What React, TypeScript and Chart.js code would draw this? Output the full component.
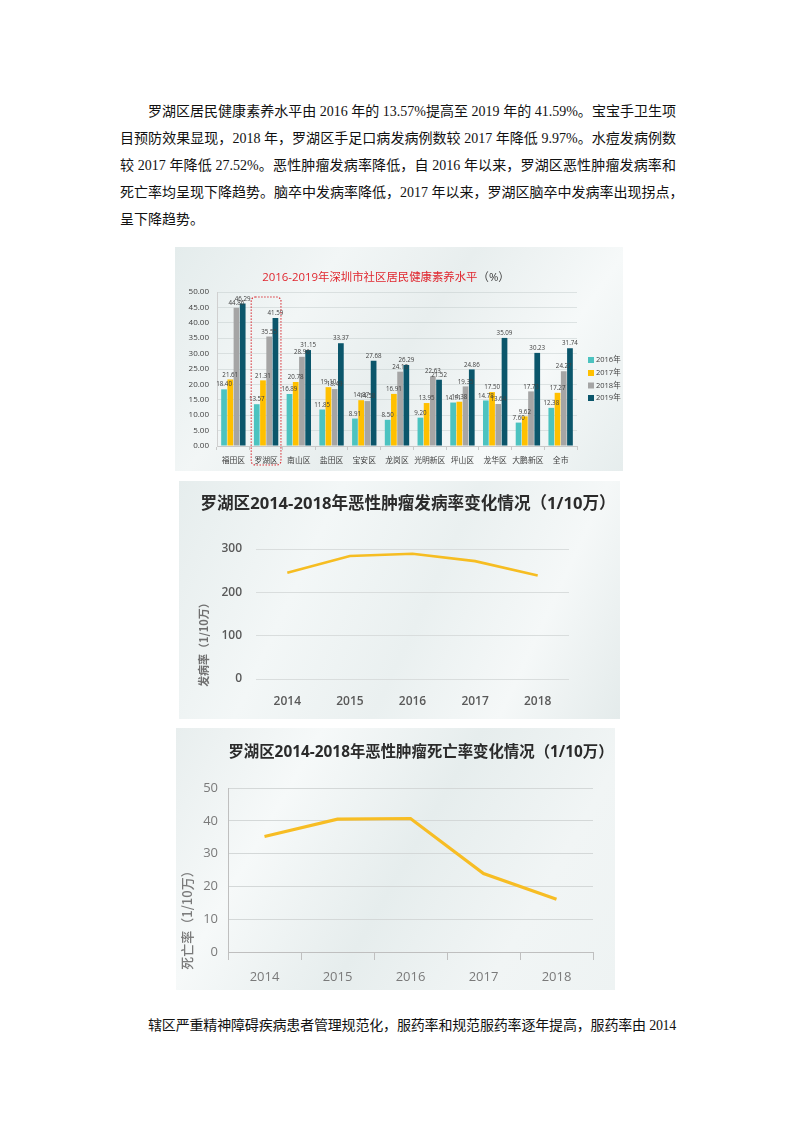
import React, { useEffect, useRef } from "react";
import { Chart, registerables } from "chart.js";
Chart.register(...registerables);

// ---------- data ----------
const districts = ["福田区", "罗湖区", "南山区", "盐田区", "宝安区", "龙岗区", "光明新区", "坪山区", "龙华区", "大鹏新区", "全市"];
const seriesNames = ["2016年", "2017年", "2018年", "2019年"];
const literacy2016 = [18.40, 13.57, 16.89, 11.85, 8.91, 8.50, 9.20, 14.11, 14.78, 7.60, 12.38];
const literacy2017 = [21.61, 21.31, 20.78, 19.10, 14.87, 16.91, 13.95, 14.38, 17.50, 9.62, 17.27];
const literacy2018 = [44.86, 35.55, 28.96, 18.49, 14.58, 24.13, 22.63, 19.35, 13.64, 17.73, 24.27];
const literacy2019 = [46.29, 41.59, 31.15, 33.37, 27.68, 26.29, 21.52, 24.86, 35.09, 30.23, 31.74];
const seriesColors = ["#4cc3c0", "#ffc000", "#a5a5a5", "#0b566b"];

const years = ["2014", "2015", "2016", "2017", "2018"];
const incidence = [245, 284, 289, 272, 239];
const mortality = [35.2, 40.5, 40.7, 23.9, 16.1];

const paragraphLines = [
  "罗湖区居民健康素养水平由 2016 年的 13.57%提高至 2019 年的 41.59%。宝宝手卫生项",
  "目预防效果显现，2018 年，罗湖区手足口病发病例数较 2017 年降低 9.97%。水痘发病例数",
  "较 2017 年降低 27.52%。恶性肿瘤发病率降低，自 2016 年以来，罗湖区恶性肿瘤发病率和",
  "死亡率均呈现下降趋势。脑卒中发病率降低，2017 年以来，罗湖区脑卒中发病率出现拐点，",
  "呈下降趋势。",
];
const bottomLine = "辖区严重精神障碍疾病患者管理规范化，服药率和规范服药率逐年提高，服药率由 2014";

const SANS = '"Open Sans", "Noto Sans CJK SC", sans-serif';
const CJK = '"Noto Sans CJK SC", "Open Sans", sans-serif';
const TEXT_FONT = '"Liberation Serif", "Noto Sans CJK SC", serif';

// ---------- chart configs ----------
const barPlugin = {
  id: "barExtras",
  afterDatasetsDraw(chart: any) {
    const ctx = chart.ctx;
    const area = chart.chartArea;
    ctx.save();
    // value labels
    ctx.font = '6.2px "Open Sans", sans-serif';
    ctx.fillStyle = "#404040";
    ctx.textAlign = "center";
    ctx.textBaseline = "bottom";
    chart.data.datasets.forEach((ds: any, i: number) => {
      const meta = chart.getDatasetMeta(i);
      meta.data.forEach((bar: any, j: number) => {
        ctx.fillText(Number(ds.data[j]).toFixed(2), bar.x, bar.y - 1.5);
      });
    });
    // dotted highlight box around 罗湖区
    const xs = chart.scales.x;
    const cw = xs.width / chart.data.labels.length;
    const cx = xs.getPixelForValue(1);
    ctx.strokeStyle = "#d8262d";
    ctx.lineWidth = 1.2;
    ctx.setLineDash([1.4, 1.6]);
    ctx.beginPath();
    (ctx as any).roundRect(cx - cw / 2 + 1.5, area.top + 5, cw - 3, area.bottom - area.top + 14, 4);
    ctx.stroke();
    ctx.setLineDash([]);
    // legend
    ctx.font = '7.5px "Open Sans", "Noto Sans CJK SC", sans-serif';
    ctx.textAlign = "left";
    ctx.textBaseline = "middle";
    const lx = area.right + 11;
    const ys = [360, 373, 385.5, 398];
    seriesNames.forEach((name, i) => {
      const y = ys[i] - 247;
      ctx.fillStyle = seriesColors[i];
      ctx.fillRect(lx, y - 3, 6, 6);
      ctx.fillStyle = "#404040";
      ctx.fillText(name, lx + 8, y);
    });
    ctx.restore();
  },
};

function barConfig(): any {
  const all = [literacy2016, literacy2017, literacy2018, literacy2019];
  return {
    type: "bar",
    data: {
      labels: districts,
      datasets: all.map((d, i) => ({
        label: seriesNames[i],
        data: d,
        backgroundColor: seriesColors[i],
        barPercentage: 0.92,
        categoryPercentage: 0.76,
      })),
    },
    options: {
      responsive: false,
      animation: false,
      layout: { padding: { left: 0, right: 46, top: 45, bottom: 0 } },
      plugins: { legend: { display: false }, tooltip: { enabled: false }, title: { display: false } },
      scales: {
        x: {
          afterFit: (s: any) => { s.height = 25; },
          grid: { display: true, drawOnChartArea: false, drawTicks: true, tickLength: 4, color: "#c8c8c8" },
          border: { display: true, color: "#c8c8c8" },
          ticks: { font: { family: CJK, size: 7.8 }, color: "#404040", padding: 5, autoSkip: false, maxRotation: 0 },
        },
        y: {
          min: 0,
          max: 50,
          afterFit: (s: any) => { s.width = 42; },
          grid: { color: "rgba(190,200,200,0.45)", drawTicks: false },
          border: { display: true, color: "#d0d0d0" },
          ticks: { stepSize: 5, font: { family: SANS, size: 8 }, color: "#404040", padding: 8, callback: (v: any) => Number(v).toFixed(2) },
        },
      },
    },
  };
}

function incidenceConfig(): any {
  return {
    type: "line",
    data: {
      labels: years,
      datasets: [{ label: "发病率", data: incidence, borderColor: "#f6bd22", borderWidth: 2.6, pointRadius: 0, tension: 0, fill: false }],
    },
    options: {
      responsive: false,
      animation: false,
      layout: { padding: { left: 0, right: 51, top: 68, bottom: 0 } },
      plugins: { legend: { display: false }, tooltip: { enabled: false } },
      scales: {
        x: {
          offset: true,
          afterFit: (s: any) => { s.height = 40; },
          grid: { display: false, drawTicks: false, offset: true },
          border: { display: false },
          ticks: { font: { family: SANS, size: 12, weight: "600" }, color: "#595959", padding: 15 },
        },
        y: {
          min: 0,
          max: 300,
          afterFit: (s: any) => { s.width = 77; },
          grid: { color: "#d9dddd", drawTicks: false },
          border: { display: false },
          ticks: { stepSize: 100, font: { family: SANS, size: 12, weight: "600" }, color: "#595959", padding: 14 },
        },
      },
    },
  };
}

function mortalityConfig(): any {
  return {
    type: "line",
    data: {
      labels: years,
      datasets: [{ label: "死亡率", data: mortality, borderColor: "#f7bd24", borderWidth: 3.2, pointRadius: 0, tension: 0, fill: false }],
    },
    options: {
      responsive: false,
      animation: false,
      layout: { padding: { left: 0, right: 22, top: 60, bottom: 0 } },
      plugins: { legend: { display: false }, tooltip: { enabled: false } },
      scales: {
        x: {
          offset: true,
          afterFit: (s: any) => { s.height = 38; },
          grid: { display: true, offset: true, drawOnChartArea: false, drawTicks: true, tickLength: 8, color: "#bfbfbf" },
          border: { display: true, color: "#bfbfbf" },
          ticks: { font: { family: SANS, size: 13 }, color: "#7a7a7a", padding: 9 },
        },
        y: {
          min: 0,
          max: 50,
          afterFit: (s: any) => { s.width = 52; },
          grid: { color: "#d4d8d8", drawTicks: false },
          border: { display: true, color: "#bfbfbf" },
          ticks: { stepSize: 10, font: { family: SANS, size: 13 }, color: "#7a7a7a", padding: 10 },
        },
      },
    },
  };
}

// ---------- components ----------
function ChartBox(props: { left: number; top: number; width: number; height: number; bg: string; make: () => any; plugins?: any[]; children?: any }) {
  const ref = useRef<HTMLCanvasElement>(null);
  useEffect(() => {
    const cfg = props.make();
    if (props.plugins) cfg.plugins = props.plugins;
    const c = new Chart(ref.current as HTMLCanvasElement, cfg);
    return () => c.destroy();
  }, []);
  return (
    <div style={{ position: "absolute", left: props.left, top: props.top, width: props.width, height: props.height, background: props.bg, overflow: "visible" }}>
      <canvas ref={ref} width={props.width} height={props.height} style={{ position: "absolute", left: 0, top: 0 }} />
      {props.children}
    </div>
  );
}

function RotatedText(props: { cx: number; cy: number; w: number; h: number; text: string; size: number; color: string; weight?: number }) {
  return (
    <div
      style={{
        position: "absolute",
        left: props.cx - props.w / 2,
        top: props.cy - props.h / 2,
        width: props.w,
        height: props.h,
        lineHeight: props.h + "px",
        transform: "rotate(-90deg)",
        textAlign: "center",
        whiteSpace: "nowrap",
        fontFamily: CJK,
        fontSize: props.size,
        fontWeight: props.weight || 400,
        color: props.color,
      }}
    >
      {props.text}
    </div>
  );
}

function TextLine(props: { left: number; right: number; cy: number; text: string; justify: boolean; spacing?: number }) {
  return (
    <div
      style={{
        position: "absolute",
        left: props.left,
        width: props.right - props.left,
        top: props.cy - 13.5,
        height: 27,
        lineHeight: "27px",
        fontFamily: TEXT_FONT,
        fontSize: 14,
        letterSpacing: (props.spacing || 0) + "px",
        color: "#111",
        textAlign: props.justify ? "justify" : "left",
        textAlignLast: props.justify ? "justify" : "left",
        whiteSpace: "nowrap",
      } as any}
    >
      {props.text}
    </div>
  );
}

const bg1 = "linear-gradient(125deg, #e4ecec 0%, #f2f6f6 28%, #e8eeee 50%, #f6f9f9 75%, #e6eded 100%)";
const bg2 = "linear-gradient(115deg, #e6eded 0%, #f3f7f7 30%, #eaf0f0 55%, #f5f8f8 78%, #e4ebeb 100%)";
const bg3 = "linear-gradient(120deg, #e8eeee 0%, #f6f9f9 25%, #e6eded 52%, #f1f5f5 78%, #eef3f3 100%)";

export default function App() {
  const lineCenters = [111, 138, 165, 192, 219];
  return (
    <div style={{ position: "absolute", left: 0, top: 0, width: 794, height: 1123, background: "#fff", overflow: "hidden" }}>
      {paragraphLines.map((t, i) => (
        <TextLine key={i} left={i === 0 ? 148 : 120} right={676} cy={lineCenters[i]} text={t} justify={i < 4} />
      ))}

      <ChartBox left={175} top={247} width={448} height={224} bg={bg1} make={barConfig} plugins={[barPlugin]}>
        <div style={{ position: "absolute", left: 0, width: 422, top: 22, lineHeight: "16px", textAlign: "center", whiteSpace: "nowrap", fontFamily: SANS, fontSize: 11.4 }}>
          <span style={{ color: "#e0262e" }}>2016-2019年深圳市社区居民健康素养水平</span>
          <span style={{ color: "#404040" }}>（%）</span>
        </div>
      </ChartBox>

      <ChartBox left={179} top={481} width={441} height={238} bg={bg2} make={incidenceConfig}>
        <div style={{ position: "absolute", left: 0, width: 458, top: 11, lineHeight: "22px", textAlign: "center", whiteSpace: "nowrap", fontFamily: SANS, fontSize: 16.6, fontWeight: 700, color: "#2b2b2b" }}>
          罗湖区2014-2018年恶性肿瘤发病率变化情况（1/10万）
        </div>
        <RotatedText cx={24} cy={161} w={120} h={14} text="发病率（1/10万）" size={11} color="#707070" weight={700} />
      </ChartBox>

      <ChartBox left={176} top={728} width={439} height={262} bg={bg3} make={mortalityConfig}>
        <div style={{ position: "absolute", left: 0, width: 490, top: 13, lineHeight: "22px", textAlign: "center", whiteSpace: "nowrap", fontFamily: SANS, fontSize: 15.4, fontWeight: 700, color: "#2b2b2b" }}>
          罗湖区2014-2018年恶性肿瘤死亡率变化情况（1/10万）
        </div>
        <RotatedText cx={11} cy={189} w={130} h={16} text="死亡率（1/10万）" size={13} color="#7a7a7a" weight={500} />
      </ChartBox>

      <TextLine left={148} right={676} cy={1025} text={bottomLine} justify={true} spacing={-0.3} />
    </div>
  );
}
